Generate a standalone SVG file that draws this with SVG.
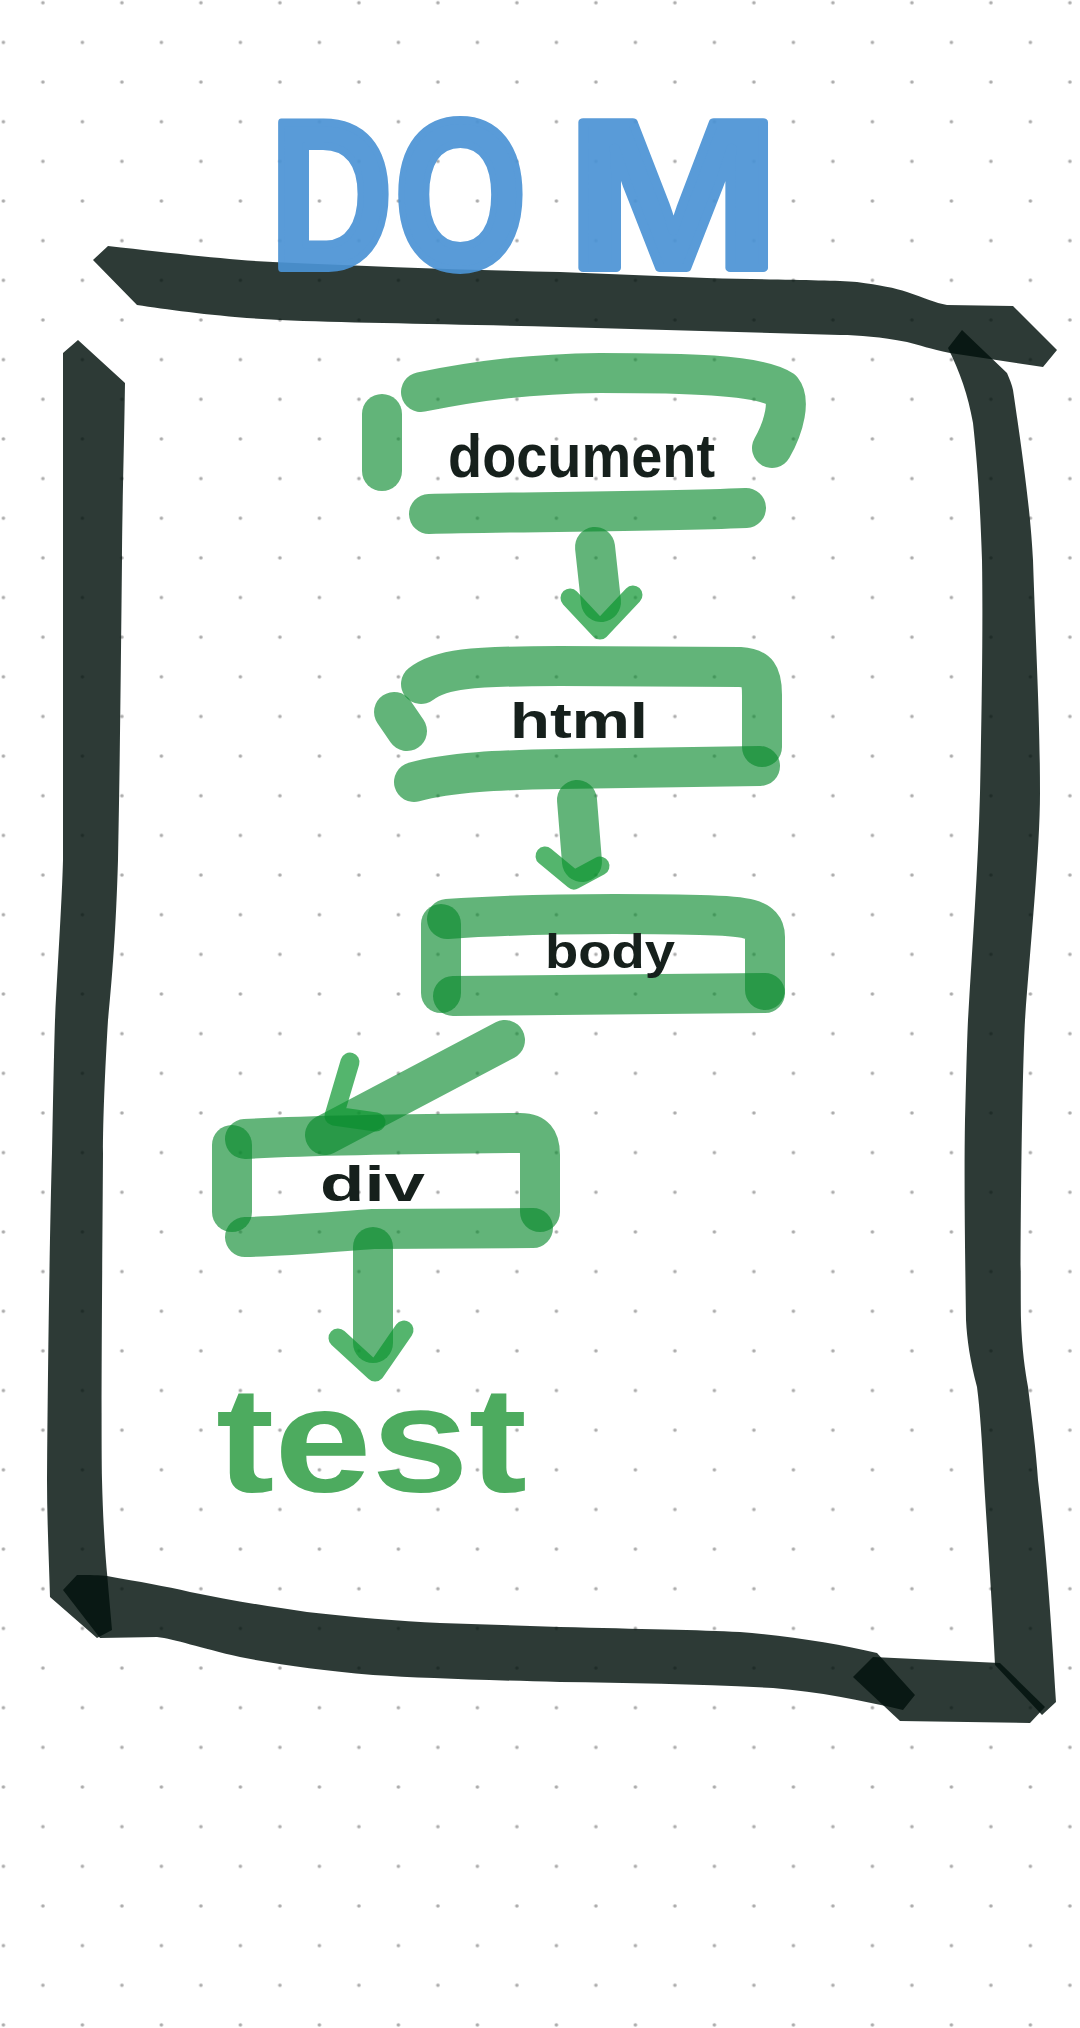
<svg xmlns="http://www.w3.org/2000/svg" width="1080" height="2028" viewBox="0 0 1080 2028">
  <defs>
    <pattern id="dots" patternUnits="userSpaceOnUse" x="-16.35" y="22.6" width="79" height="79.3">
      <circle cx="19.75" cy="19.8" r="1.8" fill="#ababab"/>
      <circle cx="59.25" cy="59.45" r="1.8" fill="#ababab"/>
    </pattern>
    <style>
      .frame{fill:#03120d;fill-opacity:.83}
      .gs{fill:none;stroke:#0a8a2e;stroke-opacity:.64;stroke-width:40;stroke-linecap:round;stroke-linejoin:round}
      .gh{fill:none;stroke:#0c952f;stroke-opacity:.7;stroke-width:19;stroke-linecap:round;stroke-linejoin:round}
      .lbl{font-family:"Liberation Sans",Arial,sans-serif;font-weight:bold;fill:#16201c}
      .dom{font-family:"Liberation Sans",Arial,sans-serif;font-weight:bold;fill:#4b93d5;stroke:#4b93d5;stroke-width:8;stroke-linejoin:round;opacity:.92}
      .test{font-family:"Liberation Sans",Arial,sans-serif;font-weight:bold;fill:#4dab5f}
    </style>
  </defs>

  <rect width="1080" height="2028" fill="#ffffff"/>
  <rect width="1080" height="2028" fill="url(#dots)"/>

  <g id="frame">
    <path class="frame" d="M108,246 C180,254 230,260 273,262 C380,267 470,270 560,272 L707,278 C780,280 830,280 857,282 C880,285 895,288 907,292 C925,298 935,303 947,305 L1013,306 L1057,350 L1043,367 L950,353 C930,349 920,345 907,342 C880,337 860,335 840,335 L560,327 C450,324 350,323 280,320 C220,317 170,310 137,305 L93,260 Z"/>
    <path class="frame" d="M948,348 L962,330 L1007,373 C1010,380 1012,385 1013,390 C1025,470 1031,520 1033,560 C1036,650 1040,720 1040,793 C1040,850 1030,950 1025,1020 C1022,1080 1020,1250 1021,1320 C1022,1350 1025,1370 1028,1387 C1032,1420 1036,1450 1038,1480 C1045,1540 1050,1600 1056,1702 L1042,1715 L995,1665 C992,1600 987,1530 984,1480 C982,1440 980,1410 977,1387 C970,1360 967,1340 966,1320 C965,1250 964,1180 965,1120 C966,1080 967,1040 968,1020 C972,950 978,870 980,793 C982,700 983,620 982,560 C980,500 977,460 973,423 C968,395 960,372 948,348 Z"/>
    <path class="frame" d="M63,353 L78,340 L125,383 C124,450 122,520 122,560 C121,650 120,760 118,860 C116,930 112,980 108,1020 C105,1070 103,1120 103,1153 C102,1300 101,1420 102,1480 C103,1520 105,1550 107,1573 L112,1630 L97,1638 L50,1597 C49,1560 47,1520 47,1480 C48,1350 50,1220 52,1153 C53,1100 54,1050 55,1020 C58,960 62,900 63,860 C63,700 63,500 63,353 Z"/>
    <path class="frame" d="M77,1575 C90,1575 100,1575 107,1576 C140,1582 165,1586 190,1592 C230,1600 270,1607 307,1612 C350,1617 400,1621 440,1623 L560,1627 C640,1629 700,1630 740,1632 C790,1636 840,1644 877,1653 L915,1695 L903,1710 C860,1700 820,1692 773,1688 C700,1684 630,1683 560,1682 C480,1680 420,1678 373,1675 C320,1670 280,1665 240,1657 C200,1648 175,1639 157,1637 L100,1638 L63,1590 Z"/>
    <path class="frame" d="M873,1657 L1000,1663 L1045,1707 L1030,1723 L900,1721 L853,1677 Z"/>
  </g>

  <g id="title-dom">
    <text class="dom" transform="scale(0.8,1)" y="268" font-size="212"><tspan x="337.5">D</tspan><tspan x="493">O</tspan><tspan x="707.5" textLength="268" lengthAdjust="spacingAndGlyphs">M</tspan></text>
  </g>

  <g id="connectors">
    <g id="edge-document-html">
      <path class="gs" d="M595,547 L601,602"/>
      <path class="gh" d="M570,598 L600,630 L633,595"/>
    </g>
    <g id="edge-html-body">
      <path class="gs" d="M577,800 L582,862"/>
      <path class="gh" d="M545,856 L574,880 L600,866"/>
    </g>
    <g id="edge-body-div">
      <path class="gs" stroke-width="42" d="M505,1040 L325,1135"/>
      <path class="gh" stroke-width="18" d="M350,1062 L334,1116 L376,1122"/>
    </g>
    <g id="edge-div-test">
      <path class="gs" d="M373,1247 L373,1343"/>
      <path class="gh" d="M338,1338 L375,1372 L404,1330"/>
    </g>
  </g>

  <g id="node-document">
    <path class="gs" d="M421,392 C480,380 530,374 600,373 C680,373 760,374 782,390 C790,400 785,425 772,448"/>
    <path class="gs" d="M382,414 L382,471"/>
    <path class="gs" stroke-width="42" d="M429,514 C500,512 650,512 746,508"/>
    <text class="lbl" x="448" y="477" font-size="62" textLength="267" lengthAdjust="spacingAndGlyphs">document</text>
  </g>

  <g id="node-html">
    <path class="gs" d="M421,684 C440,669 470,666 560,666 L740,667 C758,668 762,675 762,695 L762,747"/>
    <path class="gs" stroke-width="46" d="M394,712 L407,731"/>
    <path class="gs" stroke-width="41" d="M414,782 C450,772 500,770 560,769 L760,766"/>
    <text class="lbl" x="510" y="738" font-size="50" textLength="138" lengthAdjust="spacingAndGlyphs">html</text>
  </g>

  <g id="node-body">
    <path class="gs" stroke-width="42" d="M441,924 L441,993"/>
    <path class="gs" d="M447,919 C520,914 600,913 700,915 C745,916 765,918 765,937 L765,990"/>
    <path class="gs" d="M453,996 L765,993"/>
    <text class="lbl" x="545" y="968" font-size="48" textLength="130" lengthAdjust="spacingAndGlyphs">body</text>
  </g>

  <g id="node-div">
    <path class="gs" d="M232,1145 L232,1212"/>
    <path class="gs" stroke-width="38" d="M245,1139 C300,1136 400,1134 520,1133 C535,1133 540,1140 540,1155 L540,1212"/>
    <path class="gs" d="M245,1237 C290,1236 330,1232 373,1229 L533,1228"/>
    <text class="lbl" x="320" y="1201" font-size="50" textLength="105" lengthAdjust="spacingAndGlyphs">div</text>
  </g>

  <g id="node-test">
    <text class="test" x="216" y="1492" font-size="150" textLength="311" lengthAdjust="spacingAndGlyphs">test</text>
  </g>
</svg>
